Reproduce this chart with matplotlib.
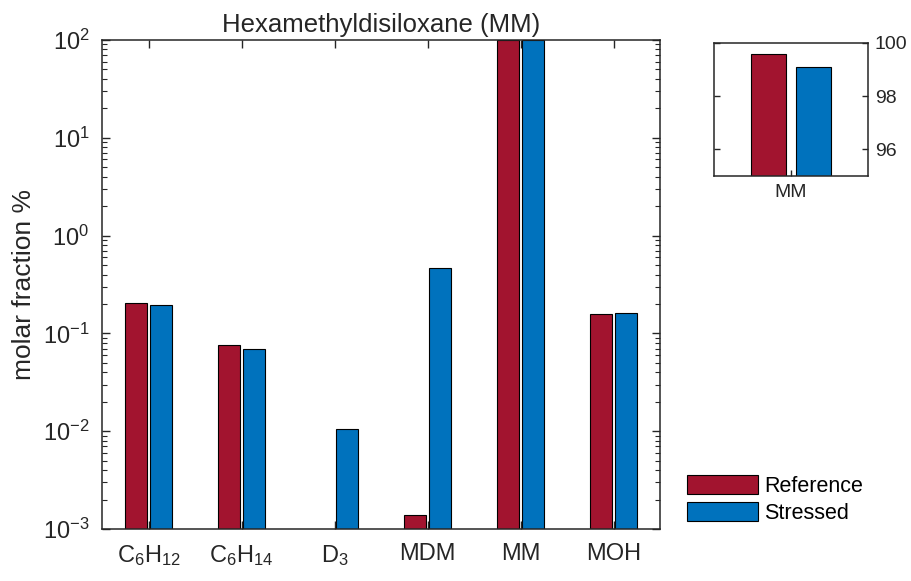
import numpy as np
import matplotlib
matplotlib.use('Agg')
import matplotlib.pyplot as plt
from matplotlib.patches import Patch
from matplotlib.ticker import LogLocator, FixedLocator

# data (molar fraction %)
species = [r'$\mathregular{C_6H_{12}}$', r'$\mathregular{C_6H_{14}}$', r'$\mathregular{D_3}$',
           'MDM', 'MM', 'MOH']
reference = [0.205, 0.076, np.nan, 0.00139, 99.58, 0.158]
stressed = [0.193, 0.070, 0.0105, 0.467, 99.11, 0.160]
inset_reference = [99.58]
inset_stressed = [99.11]
series_names = ['Reference', 'Stressed']

red = '#A2142F'
blue = '#0072BD'
dark = '#262626'


def style_axes(ax):
    for side in ax.spines.values():
        side.set_color(dark)
        side.set_linewidth(1.1)
    ax.tick_params(which='both', direction='in', colors=dark, labelcolor=dark)
    ax.tick_params(which='major', length=6, width=1.0)
    ax.tick_params(which='minor', length=3.5, width=0.8)


def main():
    plt.rcParams['font.family'] = ['Liberation Sans', 'DejaVu Sans']
    plt.rcParams['mathtext.fontset'] = 'custom'
    plt.rcParams['mathtext.rm'] = 'Liberation Sans'

    fig = plt.figure(figsize=(9.11, 5.81), dpi=100)
    ax = fig.add_axes([0.112, 0.0895, 0.6125, 0.8417])

    x = np.arange(1, len(species) + 1)
    width = 0.236
    offset = 0.138
    ax.bar(x - offset, reference, width, color=red, edgecolor='black', linewidth=0.8)
    ax.bar(x + offset, stressed, width, color=blue, edgecolor='black', linewidth=0.8)

    ax.set_yscale('log')
    ax.set_ylim(1e-3, 1e2)
    ax.set_xlim(0.5, len(species) + 0.5)
    ax.set_xticks(x)
    ax.set_xticklabels(species)
    ax.yaxis.set_minor_locator(LogLocator(base=10, subs=np.arange(2, 10)))
    style_axes(ax)
    ax.tick_params(axis='x', which='minor', bottom=False, top=False)
    ax.tick_params(top=True, right=True, which='both')
    ax.tick_params(axis='x', pad=10, labelsize=17)
    ax.tick_params(axis='y', pad=9, labelsize=17)
    ax.set_ylabel('molar fraction %', fontsize=19, color=dark, labelpad=5)
    ax.set_title('Hexamethyldisiloxane (MM)', fontsize=18.5, color=dark, pad=6)

    # inset for MM
    ins = fig.add_axes([0.7838, 0.6976, 0.169, 0.2284])
    ins.bar([1 - 0.145], inset_reference, 0.231, color=red, edgecolor='black', linewidth=0.8)
    ins.bar([1 + 0.145], inset_stressed, 0.231, color=blue, edgecolor='black', linewidth=0.8)
    ins.set_xlim(0.5, 1.5)
    ins.set_ylim(95, 100)
    ins.set_xticks([1])
    ins.set_xticklabels(['MM'])
    ins.yaxis.set_major_locator(FixedLocator([96, 98, 100]))
    ins.yaxis.tick_right()
    style_axes(ins)
    ins.tick_params(which='major', length=4)
    ins.tick_params(left=True, right=True, top=False, labelleft=False, labelright=True)
    ins.tick_params(axis='y', labelsize=14, pad=5)
    ins.tick_params(axis='x', labelsize=14, pad=6)

    handles = [Patch(facecolor=red, edgecolor='black', linewidth=0.8),
               Patch(facecolor=blue, edgecolor='black', linewidth=0.8)]
    fig.legend(handles, series_names, loc='lower left', bbox_to_anchor=(0.754, 0.098),
               frameon=False, fontsize=15.5, handlelength=3.3, handleheight=0.95,
               handletextpad=0.3, labelspacing=0.25, borderaxespad=0, borderpad=0)

    fig.savefig('out.png', dpi=100)


if __name__ == '__main__':
    main()
